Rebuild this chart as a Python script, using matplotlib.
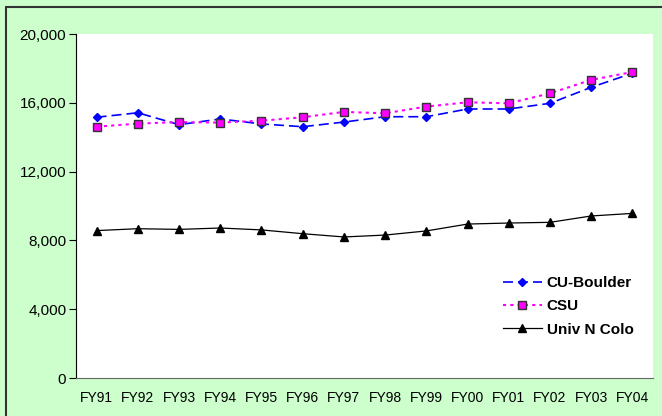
import matplotlib
matplotlib.use("Agg")
import matplotlib.pyplot as plt
from matplotlib.patches import Rectangle

years = ["FY91", "FY92", "FY93", "FY94", "FY95", "FY96", "FY97",
         "FY98", "FY99", "FY00", "FY01", "FY02", "FY03", "FY04"]
cu_boulder = [15160, 15420, 14730, 15060, 14770, 14610, 14880,
              15190, 15190, 15640, 15640, 15970, 16900, 17720]
csu = [14610, 14790, 14880, 14850, 14960, 15160, 15470,
       15390, 15780, 16030, 15970, 16550, 17330, 17790]
univ_n_colo = [8570, 8680, 8640, 8720, 8610, 8390, 8200,
               8310, 8550, 8950, 9010, 9050, 9420, 9570]
y_ticks = [0, 4000, 8000, 12000, 16000, 20000]

plt.rcParams["font.family"] = ["Liberation Sans", "DejaVu Sans"]
bg = "#CCFFCC"

fig = plt.figure(figsize=(6.62, 4.16), dpi=100, facecolor=bg)
W, H = 662, 416
ax = fig.add_axes([76 / W, 1 - 378 / H, (653 - 76) / W, (378 - 34) / H])

# outer chart border (only top/left edges are inside the crop)
fig.patches.append(Rectangle((6 / W, -0.1), 1.2, 1 - 7 / H + 0.1,
                             transform=fig.transFigure, fill=False,
                             edgecolor="#333333", lw=1.5))

x = range(len(years))
ax.plot(x, cu_boulder, color="#0000FF", ls=(0, (6, 3)), lw=1.2,
        marker="D", ms=4, mfc="#0000FF", mec="#0000FF", label="CU-Boulder")
ax.plot(x, csu, color="#FF00FF", ls=(0, (1.5, 2)), lw=1.5,
        marker="s", ms=6, mfc="#FF00FF", mec="#333333", mew=1,
        label="CSU")
ax.plot(x, univ_n_colo, color="black", ls="-", lw=0.9,
        marker="^", ms=5.5, mfc="black", mec="black", label="Univ N Colo")

ax.set_xlim(-0.5, len(years) - 0.5)
ax.set_ylim(0, 20000)
ax.set_xticks(list(x))
ax.set_xticklabels(years)
ax.set_yticks(y_ticks)
ax.set_yticklabels([f"{v:,}" for v in y_ticks])
ax.tick_params(axis="x", length=0, pad=9, labelsize=10)
ax.tick_params(axis="y", length=5, direction="out", pad=2, labelsize=11)

ax.spines["top"].set_visible(False)
ax.spines["right"].set_visible(False)
ax.spines["left"].set_color("black")
ax.spines["bottom"].set_color("#666666")

leg = ax.legend(loc="center left", bbox_to_anchor=(503 / W, 1 - 306.5 / H),
                bbox_transform=fig.transFigure, borderpad=0, borderaxespad=0,
                frameon=False, prop={"weight": "bold", "size": 11},
                handlelength=2.55, handletextpad=0.3, labelspacing=0.6)

fig.savefig("out.png", dpi=100, facecolor=bg)
